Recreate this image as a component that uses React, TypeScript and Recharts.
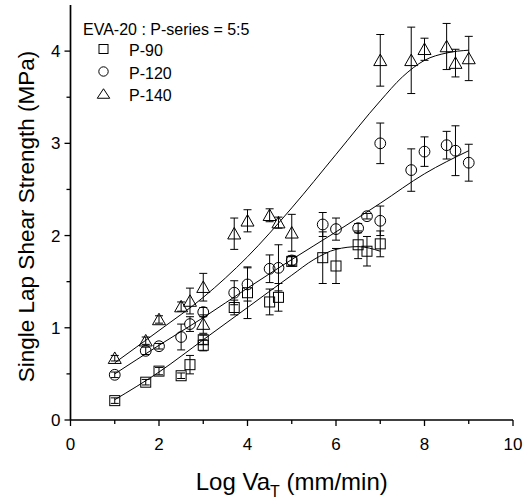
import React from 'react';
import { ComposedChart, Scatter, Line, XAxis, YAxis, ErrorBar, Legend, Label } from 'recharts';

// P-90 (squares)
const p90X = [1, 1.7, 2, 2.5, 2.7, 3, 3, 3.7, 4, 4.5, 4.7, 5, 5.7, 6, 6.5, 6.7, 7];
const p90Y = [0.21, 0.41, 0.53, 0.48, 0.6, 0.87, 0.81, 1.22, 1.38, 1.28, 1.33, 1.72, 1.76, 1.67, 1.9, 1.83, 1.91];
const p90Err = [0.03, 0.03, 0.04, 0.03, 0.1, 0.05, 0.06, 0.08, 0.28, 0.14, 0.15, 0.05, 0.28, 0.19, 0.15, 0.16, 0.14];

// P-120 (circles)
const p120X = [1, 1.7, 2, 2.5, 2.7, 3, 3.7, 4, 4.5, 4.7, 5, 5.7, 6, 6.5, 6.7, 7, 7, 7.7, 8, 8.5, 8.7, 9];
const p120Y = [0.49, 0.75, 0.8, 0.9, 1.04, 1.17, 1.38, 1.47, 1.64, 1.65, 1.73, 2.12, 2.07, 2.08, 2.21, 2.16, 3.0, 2.71, 2.91, 2.98, 2.92, 2.79];
const p120Err = [0.03, 0.04, 0.03, 0.14, 0.08, 0.05, 0.13, 0.18, 0.15, 0.25, 0.05, 0.13, 0.12, 0.05, 0.03, 0.16, 0.22, 0.23, 0.16, 0.15, 0.27, 0.2];

// P-140 (triangles)
const p140X = [1, 1.7, 2, 2.5, 2.7, 3, 3, 3.7, 4, 4.5, 4.7, 5, 7, 7.7, 8, 8.5, 8.7, 9];
const p140Y = [0.67, 0.86, 1.09, 1.23, 1.29, 1.44, 1.04, 2.02, 2.16, 2.22, 2.14, 2.03, 3.9, 3.9, 4.02, 4.05, 3.87, 3.92];
const p140Err = [0.03, 0.04, 0.04, 0.05, 0.14, 0.15, 0.1, 0.17, 0.12, 0.07, 0.06, 0.2, 0.28, 0.36, 0.12, 0.25, 0.15, 0.24];

// fitted curves
const fit90X = [1, 2, 3, 4, 5, 5.5, 6, 6.5, 7];
const fit90Y = [0.22, 0.52, 0.87, 1.22, 1.57, 1.74, 1.85, 1.88, 1.83];
const fit120X = [1, 2, 3, 4, 5, 6, 7, 8, 9];
const fit120Y = [0.5, 0.81, 1.11, 1.43, 1.74, 2.04, 2.35, 2.67, 2.92];
const fit140X = [1, 2, 3, 4, 5, 6, 7, 7.5, 8, 8.5, 9];
const fit140Y = [0.62, 0.97, 1.33, 1.77, 2.3, 2.88, 3.46, 3.72, 3.9, 3.98, 4.01];

const xTicks = [0, 1, 2, 3, 4, 5, 6, 7, 8, 9, 10];
const yTicks = [0, 0.5, 1, 1.5, 2, 2.5, 3, 3.5, 4];
const legendTitle = 'EVA-20 : P-series = 5:5';

const FONT = '"Liberation Sans", Arial, Helvetica, sans-serif';

const pts = (xs: number[], ys: number[], errs?: number[]) =>
  xs.map((x, i) => ({ x, y: ys[i], err: errs ? errs[i] : 0 }));

const p90 = pts(p90X, p90Y, p90Err);
const p120 = pts(p120X, p120Y, p120Err);
const p140 = pts(p140X, p140Y, p140Err);
const fit90 = pts(fit90X, fit90Y);
const fit120 = pts(fit120X, fit120Y);
const fit140 = pts(fit140X, fit140Y);

function SquareMark({ cx, cy, s = 10 }: any) {
  return <rect x={cx - s / 2} y={cy - s / 2} width={s} height={s} fill="none" stroke="#000" strokeWidth={1} />;
}
function CircleMark({ cx, cy, r = 5.4 }: any) {
  return <circle cx={cx} cy={cy} r={r} fill="none" stroke="#000" strokeWidth={1} />;
}
function TriMark({ cx, cy, w = 13, h = 11.5 }: any) {
  const top = cy - h / 2 - 0.5;
  const bot = cy + h / 2 - 0.5;
  return <path d={`M${cx},${top}L${cx + w / 2},${bot}L${cx - w / 2},${bot}Z`} fill="none" stroke="#000" strokeWidth={1} />;
}

function AxisTick(props: any) {
  const { x, y, payload, side } = props;
  const v = payload.value;
  const isX = side === 'bottom' || side === 'top';
  const major = isX ? v % 2 === 0 : Number.isInteger(v);
  const len = major ? 6 : 4;
  const line = {
    bottom: [x, y, x, y + len],
    top: [x, y, x, y - len],
    left: [x, y, x - len, y],
    right: [x, y, x + len, y],
  }[side as string] as number[];
  return (
    <g>
      <line x1={line[0]} y1={line[1]} x2={line[2]} y2={line[3]} stroke="#000" strokeWidth={1.3} />
      {major && side === 'bottom' && (
        <text x={x} y={y + 30} textAnchor="middle" fontSize={17} fontFamily={FONT} fill="#000">{v}</text>
      )}
      {major && side === 'left' && (
        <text x={x - 10} y={y + 6} textAnchor="end" fontSize={17} fontFamily={FONT} fill="#000">{v}</text>
      )}
    </g>
  );
}

const XTitle = (props: any) => {
  const { viewBox } = props;
  const cx = viewBox.x + viewBox.width / 2;
  return (
    <text x={cx} y={490} textAnchor="middle" fontSize={24} fontFamily={FONT} fill="#000">
      Log Va<tspan fontSize={16} dy={7}>T</tspan>
      <tspan dy={-7}> (mm/min)</tspan>
    </text>
  );
};

const YTitle = (props: any) => {
  const { viewBox } = props;
  const cy = viewBox.y + viewBox.height / 2 + 4;
  return (
    <text x={0} y={0} transform={`translate(34, ${cy}) rotate(-90)`} textAnchor="middle" fontSize={22.5} fontFamily={FONT} fill="#000">
      Single Lap Shear Strength (MPa)
    </text>
  );
};

const LegendBox = () => {
  const rows = [
    { name: 'P-90', y: 49, mark: <SquareMark cx={103.5} cy={49} s={9} /> },
    { name: 'P-120', y: 71.5, mark: <CircleMark cx={103.5} cy={71.5} r={4.7} /> },
    { name: 'P-140', y: 94, mark: <TriMark cx={103.5} cy={94} w={12.5} h={9.5} /> },
  ];
  return (
    <svg width={300} height={120} style={{ display: 'block' }}>
      <text x={83} y={35} fontSize={16} fontFamily={FONT} fill="#000">{legendTitle}</text>
      {rows.map((r) => (
        <g key={r.name}>
          {r.mark}
          <text x={129} y={r.y + 7} fontSize={16} fontFamily={FONT} fill="#000">{r.name}</text>
        </g>
      ))}
    </svg>
  );
};

export default function App() {
  return (
    <div style={{ position: 'absolute', left: 0, top: 0, width: 529, height: 501, background: '#fff' }}>
      <ComposedChart width={529} height={501} margin={{ top: 5, right: 16, bottom: 41, left: 10.5 }}>
        <XAxis
          xAxisId="b"
          dataKey="x"
          type="number"
          domain={[0, 10]}
          allowDataOverflow
          ticks={xTicks}
          interval={0}
          height={40}
          tickSize={0}
          tickMargin={0}
          tickLine={false}
          axisLine={{ stroke: '#000', strokeWidth: 1.7 }}
          tick={(p: any) => <AxisTick {...p} side="bottom" />}
        >
          <Label content={XTitle} />
        </XAxis>
        <XAxis
          xAxisId="t"
          dataKey="x"
          type="number"
          orientation="top"
          domain={[0, 10]}
          allowDataOverflow
          ticks={xTicks}
          interval={0}
          height={0}
          tickSize={0}
          tickMargin={0}
          tickLine={false}
          axisLine={{ stroke: '#000', strokeWidth: 1.7 }}
          tick={(p: any) => <AxisTick {...p} side="top" />}
        />
        <YAxis
          yAxisId="l"
          type="number"
          domain={[0, 4.5]}
          allowDataOverflow
          ticks={yTicks}
          interval={0}
          width={60}
          tickSize={0}
          tickMargin={0}
          tickLine={false}
          axisLine={{ stroke: '#000', strokeWidth: 1.7 }}
          tick={(p: any) => <AxisTick {...p} side="left" />}
        >
          <Label content={YTitle} />
        </YAxis>
        <YAxis
          yAxisId="r"
          type="number"
          orientation="right"
          domain={[0, 4.5]}
          allowDataOverflow
          ticks={yTicks}
          interval={0}
          width={0}
          tickSize={0}
          tickMargin={0}
          tickLine={false}
          axisLine={{ stroke: '#000', strokeWidth: 1.7 }}
          tick={(p: any) => <AxisTick {...p} side="right" />}
        />

        <Line xAxisId="b" yAxisId="l" data={fit90} dataKey="y" type="monotone" stroke="#000" strokeWidth={1} dot={false} legendType="none" isAnimationActive={false} />
        <Line xAxisId="b" yAxisId="l" data={fit120} dataKey="y" type="monotone" stroke="#000" strokeWidth={1} dot={false} legendType="none" isAnimationActive={false} />
        <Line xAxisId="b" yAxisId="l" data={fit140} dataKey="y" type="monotone" stroke="#000" strokeWidth={1} dot={false} legendType="none" isAnimationActive={false} />

        <Scatter name="P-90" xAxisId="b" yAxisId="l" data={p90} dataKey="y" shape={(p: any) => <SquareMark cx={p.cx} cy={p.cy} />} isAnimationActive={false}>
          <ErrorBar dataKey="err" direction="y" width={4} stroke="#000" strokeWidth={1} isAnimationActive={false} />
        </Scatter>
        <Scatter name="P-120" xAxisId="b" yAxisId="l" data={p120} dataKey="y" shape={(p: any) => <CircleMark cx={p.cx} cy={p.cy} />} isAnimationActive={false}>
          <ErrorBar dataKey="err" direction="y" width={4} stroke="#000" strokeWidth={1} isAnimationActive={false} />
        </Scatter>
        <Scatter name="P-140" xAxisId="b" yAxisId="l" data={p140} dataKey="y" shape={(p: any) => <TriMark cx={p.cx} cy={p.cy} />} isAnimationActive={false}>
          <ErrorBar dataKey="err" direction="y" width={4} stroke="#000" strokeWidth={1} isAnimationActive={false} />
        </Scatter>

        <Legend
          layout="vertical"
          align="center"
          verticalAlign="middle"
          wrapperStyle={{ left: 0, top: 0, width: 300, height: 120 }}
          content={() => <LegendBox />}
        />
      </ComposedChart>
    </div>
  );
}
